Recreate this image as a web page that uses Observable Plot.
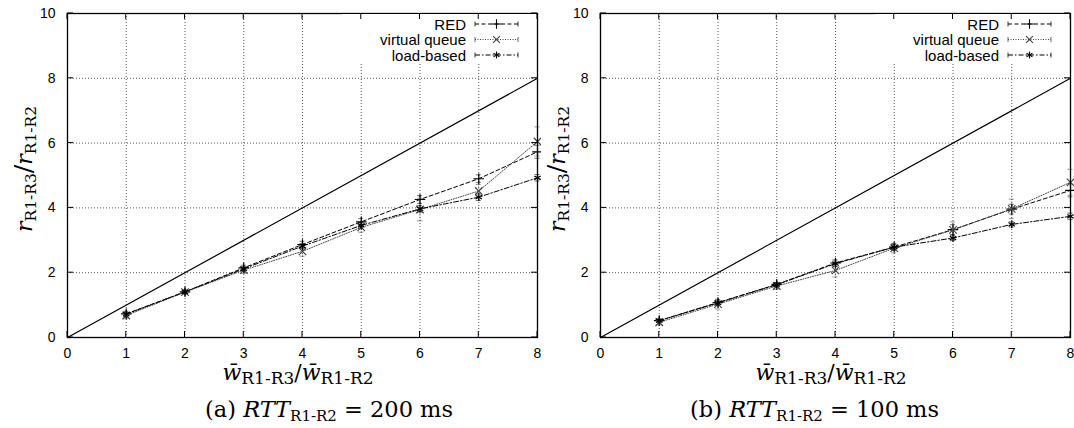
<!DOCTYPE html>
<html><head><meta charset="utf-8">
<script src="https://cdn.jsdelivr.net/npm/d3@7"></script>
<script src="https://cdn.jsdelivr.net/npm/@observablehq/plot@0.6"></script>
<style>
body{margin:0;background:#fff;}
#wrap{display:flex;width:1074px;height:428px;overflow:hidden;}
.panel{position:relative;height:428px;}
.cap{position:absolute;top:398px;font-family:"DejaVu Serif",serif;font-size:22.5px;line-height:22px;white-space:nowrap;color:#000;}
.cap .sub{font-size:15px;position:relative;top:4px;}
</style></head><body>
<div id="wrap"></div>
<script>
// ---- data ----
const xVals = [1, 2, 3, 4, 5, 6, 7, 8];
const seriesNames = ["RED", "virtual queue", "load-based"];
// panel (a) RTT = 200 ms
const redA = [0.73, 1.41, 2.15, 2.87, 3.57, 4.26, 4.90, 5.73];
const vqA  = [0.68, 1.40, 2.08, 2.66, 3.40, 3.95, 4.52, 6.05];
const lbA  = [0.72, 1.41, 2.12, 2.82, 3.46, 3.97, 4.33, 4.93];
const redAErr = [0.08, 0.05, 0.08, 0.10, 0.10, 0.12, 0.12, 0.20];
const vqAErr  = [0.10, 0.06, 0.10, 0.15, 0.15, 0.35, 0.20, 0.45];
const lbAErr  = [0.06, 0.05, 0.06, 0.08, 0.08, 0.10, 0.10, 0.10];
// panel (b) RTT = 100 ms
const redB = [0.52, 1.08, 1.64, 2.30, 2.79, 3.33, 3.96, 4.54];
const vqB  = [0.47, 1.03, 1.59, 2.07, 2.76, 3.32, 3.97, 4.79];
const lbB  = [0.52, 1.07, 1.63, 2.28, 2.79, 3.07, 3.49, 3.74];
const redBErr = [0.05, 0.08, 0.06, 0.10, 0.10, 0.15, 0.15, 0.20];
const vqBErr  = [0.08, 0.15, 0.10, 0.20, 0.15, 0.25, 0.30, 0.40];
const lbBErr  = [0.05, 0.06, 0.06, 0.08, 0.08, 0.08, 0.08, 0.10];
const xTicks = [0, 1, 2, 3, 4, 5, 6, 7, 8];
const yTicks = [0, 2, 4, 6, 8, 10];
const gridXVals = [1, 2, 3, 4, 5, 6, 7];
const gridYVals = [2, 4, 6, 8];
const diagX = [0, 8];
const panelTags = ["(a)", "(b)"];
const rttValues = ["200", "100"];

const styles = {
  "RED": {dash: "4,2.5", stroke: "#000", symbol: "plus"},
  "virtual queue": {dash: "1,1.5", stroke: "#444", symbol: "times"},
  "load-based": {dash: "5,2,1.5,2", stroke: "#000", symbol: "asterisk"}
};

function buildRows(vals, errs) {
  const rows = [];
  seriesNames.forEach((name, k) => {
    xVals.forEach((x, i) => rows.push({series: name, x, y: vals[k][i], err: errs[k][i]}));
  });
  return rows;
}

const panels = [
  {rows: buildRows([redA, vqA, lbA], [redAErr, vqAErr, lbAErr]), width: 541, ml: 67, capLeft: 205},
  {rows: buildRows([redB, vqB, lbB], [redBErr, vqBErr, lbBErr]), width: 533, ml: 59, capLeft: 149}
];

const serif = "'DejaVu Serif',serif";
const wrap = document.getElementById("wrap");

panels.forEach((p, idx) => {
  const marks = [
    Plot.gridX({ticks: gridXVals, stroke: "#000", strokeOpacity: 0.85, strokeDasharray: "1,2", strokeWidth: 0.8}),
    Plot.gridY({ticks: gridYVals, stroke: "#000", strokeOpacity: 0.85, strokeDasharray: "1,2", strokeWidth: 0.8}),
    Plot.line(diagX.map(v => ({x: v, y: v})), {x: "x", y: "y", stroke: "#000", strokeWidth: 1.2})
  ];
  seriesNames.forEach(name => {
    const d = p.rows.filter(r => r.series === name);
    const s = styles[name];
    marks.push(
      Plot.ruleX(d, {x: "x", y1: r => r.y - r.err, y2: r => r.y + r.err, stroke: s.stroke, strokeOpacity: 0.7, strokeDasharray: "1,1", strokeWidth: 0.8}),
      Plot.ruleY(d, {y: r => r.y - r.err, x1: "x", x2: "x", insetLeft: -2.5, insetRight: -2.5, stroke: s.stroke, strokeOpacity: 0.7, strokeWidth: 0.8}),
      Plot.ruleY(d, {y: r => r.y + r.err, x1: "x", x2: "x", insetLeft: -2.5, insetRight: -2.5, stroke: s.stroke, strokeOpacity: 0.7, strokeWidth: 0.8}),
      Plot.line(d, {x: "x", y: "y", stroke: s.stroke, strokeDasharray: s.dash, strokeWidth: 1}),
      Plot.dot(d, {x: "x", y: "y", symbol: s.symbol, stroke: s.stroke, fill: "none", r: 3.5, strokeWidth: 1.2})
    );
  });
  marks.push(
    Plot.frame({stroke: "#000", strokeWidth: 1.3}),
    Plot.axisX({ticks: xTicks, tickSize: 0, tickPadding: 11, label: null, tickFormat: d => String(d)}),
    Plot.axisY({ticks: yTicks, tickSize: 0, tickPadding: 12, label: null, tickFormat: d => String(d)})
  );

  const plot = Plot.plot({
    width: p.width, height: 392,
    marginLeft: p.ml, marginRight: 4, marginTop: 13, marginBottom: 55,
    x: {domain: [0, 8]}, y: {domain: [0, 10]},
    style: {fontFamily: "'Liberation Sans', Arial, sans-serif", fontSize: "14px", background: "#fff", color: "#000", overflow: "visible"},
    marks
  });

  const sx = plot.scale("x"), sy = plot.scale("y");
  const svg = d3.select(plot);
  const L = sx.apply(0), R = sx.apply(8), T = sy.apply(10), B = sy.apply(0);

  // legend background (covers grid lines)
  svg.append("rect").attr("x", R - 195).attr("y", T + 1).attr("width", 194).attr("height", 49).attr("fill", "#fff");

  // inward tick marks (mirrored on all sides)
  const tg = svg.append("g").attr("stroke", "#000").attr("stroke-width", 1);
  xTicks.forEach(v => {
    const x = sx.apply(v);
    tg.append("line").attr("x1", x).attr("x2", x).attr("y1", B).attr("y2", B - 6);
    tg.append("line").attr("x1", x).attr("x2", x).attr("y1", T).attr("y2", T + 6);
  });
  yTicks.forEach(v => {
    const y = sy.apply(v);
    tg.append("line").attr("x1", L).attr("x2", L + 6).attr("y1", y).attr("y2", y);
    tg.append("line").attr("x1", R).attr("x2", R - 6).attr("y1", y).attr("y2", y);
  });

  // legend
  const lg = svg.append("g");
  const symMap = {plus: d3.symbolPlus, times: d3.symbolTimes, asterisk: d3.symbolAsterisk};
  seriesNames.forEach((name, i) => {
    const s = styles[name];
    const y = T + 11 + i * 15.5;
    lg.append("text").attr("x", R - 71).attr("y", y).attr("text-anchor", "end")
      .attr("dominant-baseline", "central").attr("font-family", "'Liberation Sans', Arial, sans-serif")
      .attr("font-size", 15).attr("fill", "#000").text(name);
    const x1 = R - 62, x2 = R - 19;
    lg.append("line").attr("x1", x1).attr("x2", x2).attr("y1", y).attr("y2", y)
      .attr("stroke", s.stroke).attr("stroke-dasharray", s.dash).attr("stroke-width", 1);
    [x1, x2].forEach(xx => lg.append("line").attr("x1", xx).attr("x2", xx).attr("y1", y - 2.5).attr("y2", y + 2.5)
      .attr("stroke", s.stroke).attr("stroke-width", 0.8));
    lg.append("path").attr("d", d3.symbol(symMap[s.symbol], Math.PI * 3.2 * 3.2)())
      .attr("transform", `translate(${(x1 + x2) / 2},${y})`).attr("fill", "none")
      .attr("stroke", s.stroke).attr("stroke-width", 1.1);
  });

  // y axis label: r_{R1-R3} / r_{R1-R2}
  const yl = svg.append("text").attr("transform", `translate(${L - 35},${(T + B) / 2 - 6}) rotate(-90)`)
    .attr("text-anchor", "middle").attr("font-family", serif).attr("font-size", 22).attr("fill", "#000");
  yl.append("tspan").attr("font-style", "italic").text("r");
  yl.append("tspan").attr("font-size", 15.5).attr("dy", 4).text("R1-R3");
  yl.append("tspan").attr("dy", -4).attr("font-size", 25).text("/");
  yl.append("tspan").attr("font-style", "italic").text("r");
  yl.append("tspan").attr("font-size", 15.5).attr("dy", 4).text("R1-R2");

  // x axis label: w̄_{R1-R3} / w̄_{R1-R2}
  const xl = svg.append("text").attr("x", (L + R) / 2 - 4).attr("y", 380)
    .attr("text-anchor", "middle").attr("font-family", serif).attr("font-size", 22).attr("fill", "#000");
  xl.append("tspan").attr("font-style", "italic").text("w\u0304");
  xl.append("tspan").attr("font-size", 17).attr("dy", 4).text("R1-R3");
  xl.append("tspan").attr("dy", -4).text("/");
  xl.append("tspan").attr("font-style", "italic").text("w\u0304");
  xl.append("tspan").attr("font-size", 17).attr("dy", 4).text("R1-R2");

  const div = document.createElement("div");
  div.className = "panel";
  div.style.width = p.width + "px";
  div.appendChild(plot);
  const cap = document.createElement("div");
  cap.className = "cap";
  cap.style.left = p.capLeft + "px";
  cap.innerHTML = `${panelTags[idx]} <i>RTT</i><span class="sub">R1-R2</span> = ${rttValues[idx]} ms`;
  div.appendChild(cap);
  wrap.appendChild(div);
});
</script>
</body></html>
